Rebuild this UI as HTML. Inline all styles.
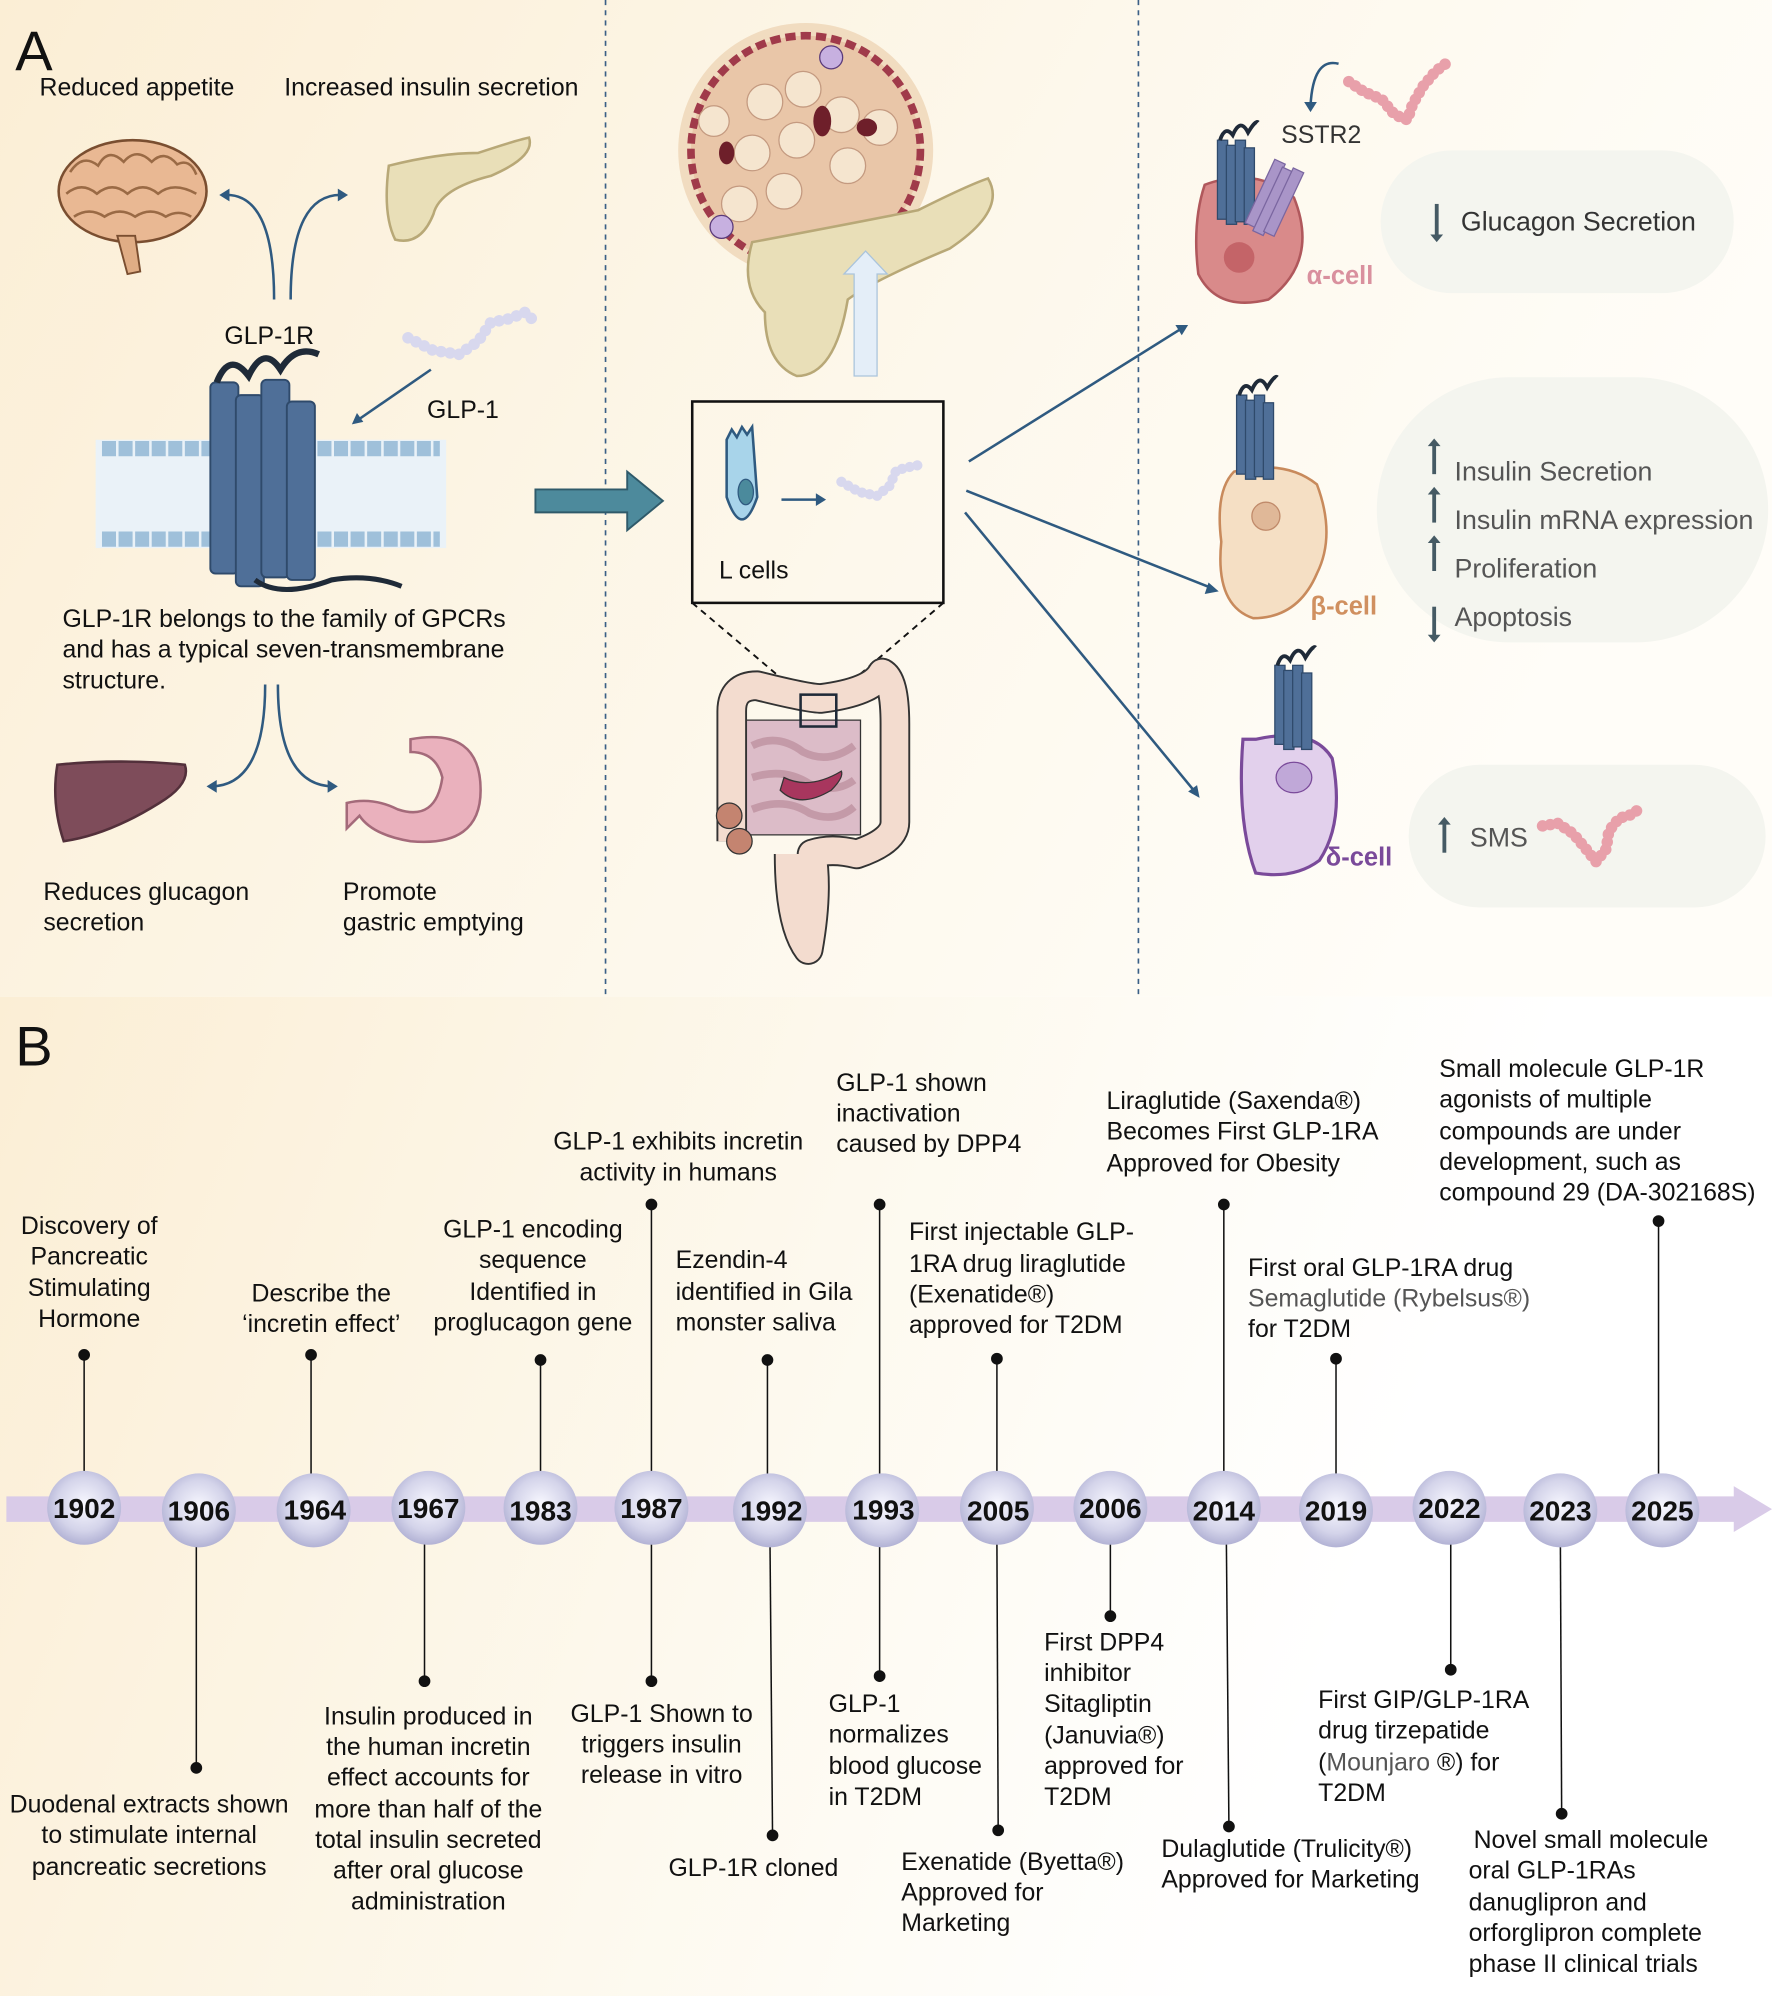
<!DOCTYPE html>
<html><head><meta charset="utf-8"><style>
html,body{margin:0;padding:0;background:#fff}
svg{display:block}
text{font-family:"Liberation Sans",sans-serif;font-size:19.5px;fill:#111}
.g{fill:#555;font-size:21px}
.yr{font-weight:bold;font-size:22px;text-anchor:middle}
</style></head><body>
<svg width="1772" height="1996" viewBox="0 0 1390 1566" preserveAspectRatio="none" xmlns="http://www.w3.org/2000/svg">
<defs>
<linearGradient id="bgA" x1="0" y1="0" x2="1" y2="0.3"><stop offset="0" stop-color="#fbeed5"/><stop offset="0.6" stop-color="#fdf8ec"/><stop offset="1" stop-color="#fffdf8"/></linearGradient>
<linearGradient id="bgB" x1="0" y1="0" x2="1" y2="0.2"><stop offset="0" stop-color="#fbeed5"/><stop offset="0.5" stop-color="#fdf9ee"/><stop offset="0.85" stop-color="#ffffff"/></linearGradient>
<radialGradient id="ball" cx="0.5" cy="0.45" r="0.6"><stop offset="0" stop-color="#f8f8ff"/><stop offset="0.6" stop-color="#d4d4ea"/><stop offset="1" stop-color="#a9a9cf"/></radialGradient>
<g id="rec"><g fill="#4f6f98" stroke="#2f4a6b" stroke-width="1"><rect x="0" y="0" width="8" height="62"/><rect x="7" y="4" width="8" height="62"/><rect x="14" y="0" width="8" height="64"/><rect x="21" y="6" width="8" height="60"/></g><path d="M2 0 q4 -12 10 -4 q6 -14 12 -2 q6 -10 8 -8" fill="none" stroke="#1f2a38" stroke-width="3"/></g>
</defs>
<rect x="0" y="0" width="1390" height="782" fill="url(#bgA)"/>
<rect x="0" y="782" width="1390" height="784" fill="url(#bgB)"/>
<line x1="475" y1="0" x2="475" y2="782" stroke="#3a5f86" stroke-width="1.3" stroke-dasharray="4,4"/>
<line x1="893" y1="0" x2="893" y2="782" stroke="#3a5f86" stroke-width="1.3" stroke-dasharray="4,4"/>

<text x="12" y="55" style="font-size:44px">A</text>
<text x="31" y="75">Reduced appetite</text>
<text x="223" y="75">Increased insulin secretion</text>
<!-- brain -->
<ellipse cx="104" cy="150" rx="58" ry="40" fill="#e9b893" stroke="#7a4e30" stroke-width="2"/>
<path d="M55 135 q10 -15 22 -5 q8 -15 20 -3 q10 -12 22 0 q10 -10 20 2 q10 -5 15 8 M52 152 q12 -10 24 0 q12 -10 24 0 q12 -10 24 0 q12 -10 30 0 M58 170 q12 -8 24 0 q12 -8 24 0 q12 -8 24 0 q10 -6 20 0" fill="none" stroke="#9a6a45" stroke-width="2"/>
<path d="M92 185 l8 30 l10 -2 l-4 -28z" fill="#e0ad85" stroke="#7a4e30" stroke-width="1.5"/>
<!-- pancreas small -->
<path d="M305 130 q40 -10 70 -10 q30 -10 40 -12 q5 15 -30 30 q-40 10 -45 30 q-10 25 -30 20 q-10 -20 -5 -58z" fill="#e9dfb8" stroke="#b8a877" stroke-width="2"/>
<!-- arrows up -->
<path d="M215 235 Q215 150 175 153" fill="none" stroke="#2f5a80" stroke-width="2"/>
<path d="M228 235 Q228 150 270 153" fill="none" stroke="#2f5a80" stroke-width="2"/>
<path d="M172 153 l8 -5 l0 10z M273 153 l-8 -5 l0 10z" fill="#2f5a80"/>
<text x="176" y="270">GLP-1R</text>
<path d="M320 265 l20 10 20 3 15 -10 10 -15 15 -3 12 -5 8 8" fill="none" stroke="#d8d8ee" stroke-width="9" stroke-linecap="round" stroke-dasharray="0.1,7"/>
<text x="335" y="328">GLP-1</text>
<path d="M338 290 L280 330" stroke="#2f5a80" stroke-width="2"/><path d="M276 333 l4 -9 l5 7z" fill="#2f5a80"/>
<!-- membrane -->
<rect x="75" y="345" width="275" height="85" fill="#eaf2f8"/>
<path d="M80 352 h265 M80 423 h265" stroke="#9fc0da" stroke-width="12" stroke-dasharray="11,2"/>
<g fill="#4f6f98" stroke="#2f4a6b" stroke-width="1.5">
<rect x="165" y="300" width="22" height="150" rx="4"/><rect x="185" y="310" width="22" height="150" rx="4"/><rect x="205" y="298" width="22" height="155" rx="4"/><rect x="225" y="315" width="22" height="140" rx="4"/></g>
<path d="M170 300 q10 -25 25 -5 q12 -25 25 -5 q12 -20 30 -12" fill="none" stroke="#1f2a38" stroke-width="5"/>
<path d="M200 455 q20 15 60 0 q30 -5 55 5" fill="none" stroke="#1f2a38" stroke-width="4"/>
<text x="49" y="492">GLP-1R belongs to the family of GPCRs</text>
<text x="49" y="516">and has a typical seven-transmembrane</text>
<text x="49" y="540">structure.</text>
<path d="M208 537 Q208 617 165 617" fill="none" stroke="#2f5a80" stroke-width="2"/>
<path d="M218 537 Q218 617 262 617" fill="none" stroke="#2f5a80" stroke-width="2"/>
<path d="M162 617 l8 -5 l0 10z M265 617 l-8 -5 l0 10z" fill="#2f5a80"/>
<!-- liver -->
<path d="M45 600 q50 -5 100 0 q5 15 -20 30 q-40 25 -75 30 q-10 -30 -5 -60z" fill="#7e4c5a" stroke="#53303b" stroke-width="2"/>
<!-- stomach -->
<path d="M322 580 q55 -10 55 40 q0 45 -55 40 q-30 -5 -40 -20 l-10 10 l0 -20 q20 -5 40 5 q30 10 35 -25 q-5 -20 -25 -20z" fill="#eab1bd" stroke="#a46a7a" stroke-width="2"/>
<text x="34" y="706">Reduces glucagon</text><text x="34" y="730">secretion</text>
<text x="269" y="706">Promote</text><text x="269" y="730">gastric emptying</text>
<!-- big arrow -->
<path d="M420 384 h72 v-14 l28 23 l-28 23 v-14 h-72z" fill="#4d8a9c" stroke="#2f5a6a" stroke-width="1.5"/>

<!-- islet -->
<circle cx="632" cy="118" r="100" fill="#f1dcc0"/>
<circle cx="632" cy="118" r="90" fill="#e9c6a8" stroke="#a03a4a" stroke-width="6" stroke-dasharray="8,4"/>
<g fill="#f5e5cf" stroke="#c49a80" stroke-width="1">
<circle cx="600" cy="80" r="14"/><circle cx="630" cy="70" r="14"/><circle cx="660" cy="90" r="14"/><circle cx="590" cy="120" r="14"/><circle cx="625" cy="110" r="14"/><circle cx="665" cy="130" r="14"/><circle cx="580" cy="160" r="14"/><circle cx="615" cy="150" r="14"/><circle cx="690" cy="100" r="14"/><circle cx="560" cy="95" r="12"/></g>
<g fill="#6e1f2a"><ellipse cx="645" cy="95" rx="7" ry="12"/><ellipse cx="570" cy="120" rx="6" ry="9"/><ellipse cx="680" cy="100" rx="8" ry="7"/></g>
<circle cx="652" cy="45" r="9" fill="#c7b0e0" stroke="#5a3a7a"/>
<circle cx="566" cy="178" r="9" fill="#c7b0e0" stroke="#5a3a7a"/>
<path d="M590 190 q80 -15 130 -25 q40 -20 55 -25 q15 25 -30 55 q-60 25 -80 40 q-10 60 -40 60 q-25 -10 -25 -50 q-20 -20 -10 -55z" fill="#e9dfb8" stroke="#b8a877" stroke-width="2"/>
<path d="M670 295 v-80 h-8 l17 -18 l17 18 h-8 v80z" fill="#e4eef8" stroke="#aac4dc"/>
<!-- L cell box -->
<rect x="543" y="315" width="197" height="158" fill="none" stroke="#111" stroke-width="2"/>
<path d="M570 345 l4 -8 4 6 4 -8 4 6 4 -6 l4 55 q-12 35 -24 0z" fill="#a8d4ea" stroke="#2f5a80" stroke-width="2"/>
<ellipse cx="585" cy="386" rx="6" ry="10" fill="#4b8a9c" stroke="#2f5a80"/>
<path d="M613 392 h30" stroke="#2f5a80" stroke-width="2"/><path d="M648 392 l-8 -5 v10z" fill="#2f5a80"/>
<path d="M660 378 l14 8 14 3 10 -8 5 -12 12 -3 10 -2" fill="none" stroke="#d8d8ee" stroke-width="8" stroke-linecap="round" stroke-dasharray="0.1,6"/>
<text x="564" y="454">L cells</text>
<path d="M543 473 L628 545 M740 473 L656 545" stroke="#111" stroke-width="1.5" stroke-dasharray="5,4"/>
<!-- intestine -->
<path d="M585 565 h90 v90 h-90z" fill="#dcbcc8" stroke="#333" stroke-width="1"/>
<path d="M590 585 q20 -10 40 5 q20 10 40 -5 M590 610 q25 -8 45 5 q20 8 35 -3 M590 635 q25 -10 45 3 q20 8 35 -5" fill="none" stroke="#c49aa8" stroke-width="6"/>
<path d="M612 620 q15 15 40 0 q10 -10 8 -15 q-25 15 -45 5z" fill="#a8365e" stroke="#333"/>
<path d="M574 660 V558 q0 -20 20 -20 q40 10 50 10 q40 -5 48 -20 q10 5 10 40 V645 q0 15 -30 25 q-20 -5 -35 0 q5 30 -3 75 q-15 -20 -15 -75" fill="none" stroke="#333" stroke-width="24" stroke-linejoin="round"/>
<path d="M574 660 V558 q0 -20 20 -20 q40 10 50 10 q40 -5 48 -20 q10 5 10 40 V645 q0 15 -30 25 q-20 -5 -35 0 q5 30 -3 75 q-15 -20 -15 -75" fill="none" stroke="#f3dccf" stroke-width="21" stroke-linejoin="round"/>
<circle cx="572" cy="640" r="10" fill="#c48470" stroke="#333"/><circle cx="580" cy="660" r="10" fill="#c48470" stroke="#333"/>
<rect x="628" y="545" width="28" height="25" fill="none" stroke="#1f2a38" stroke-width="2"/>

<!-- right arrows -->
<g stroke="#2f5a80" stroke-width="2" fill="none"><path d="M760 362 L928 257"/><path d="M758 385 L952 462"/><path d="M757 402 L938 622"/></g>
<g fill="#2f5a80"><path d="M932 255 l-10 0 l5 8z"/><path d="M956 464 l-8 -7 l-3 9z"/><path d="M941 626 l-2 -10 l-7 5z"/></g>
<!-- pills -->
<rect x="1083" y="118" width="277" height="112" rx="56" fill="#f4f5ef"/>
<rect x="1080" y="296" width="307" height="208" rx="104" fill="#f4f5ef"/>
<rect x="1105" y="600" width="280" height="112" rx="56" fill="#f4f5ef"/>
<!-- cells -->
<path d="M945 145 q40 -15 70 10 q20 50 -20 80 q-40 10 -55 -20 q-5 -40 5 -70z" fill="#d98a8a" stroke="#b0585c" stroke-width="2"/>
<circle cx="972" cy="202" r="12" fill="#c46468"/>
<g transform="translate(955,110)"><use href="#rec"/></g>
<g transform="translate(1000,125) rotate(25)"><g fill="#a995c8" stroke="#7a66a0"><rect x="0" y="0" width="9" height="55"/><rect x="8" y="3" width="9" height="55"/><rect x="16" y="0" width="9" height="55"/></g></g>
<path d="M1050 50 q-20 -5 -22 33" fill="none" stroke="#2f5a80" stroke-width="2"/><path d="M1028 88 l-5 -8 h10z" fill="#2f5a80"/>
<path d="M1058 64 l12 8 14 6 10 12 10 4 4 -12 8 -14 10 -12 8 -6" fill="none" stroke="#e8a0aa" stroke-width="9" stroke-linecap="round" stroke-dasharray="0.1,6"/>
<text x="1005" y="112" style="fill:#333">SSTR2</text>
<text x="1025" y="223" style="fill:#d9909e;font-weight:bold;font-size:20px">α-cell</text>
<path d="M1127 160 v26" stroke="#455a64" stroke-width="3"/><path d="M1122 184 l5 6 l5 -6z" fill="#455a64"/>
<text x="1146" y="181" style="fill:#333;font-size:21px">Glucagon Secretion</text>

<path d="M968 370 q40 -10 65 10 q15 40 0 70 q-15 35 -50 35 q-30 -10 -25 -60 q-5 -40 10 -55z" fill="#f5dfc4" stroke="#c88a5c" stroke-width="2"/>
<circle cx="993" cy="405" r="11" fill="#e0b898" stroke="#c08a6a"/>
<g transform="translate(970,310)"><use href="#rec"/></g>
<text x="1028" y="482" style="fill:#d09060;font-weight:bold;font-size:20px">β-cell</text>
<g fill="#455a64"><path d="M1125 348 v24" stroke="#455a64" stroke-width="3"/><path d="M1120 350 l5 -6 l5 6z"/>
<path d="M1125 386 v24" stroke="#455a64" stroke-width="3"/><path d="M1120 388 l5 -6 l5 6z"/>
<path d="M1125 424 v24" stroke="#455a64" stroke-width="3"/><path d="M1120 426 l5 -6 l5 6z"/>
<path d="M1125 476 v24" stroke="#455a64" stroke-width="3"/><path d="M1120 498 l5 6 l5 -6z"/></g>
<text x="1141" y="377" class="g">Insulin Secretion</text>
<text x="1141" y="415" class="g">Insulin mRNA expression</text>
<text x="1141" y="453" class="g">Proliferation</text>
<text x="1141" y="491" class="g">Apoptosis</text>

<path d="M985 580 q45 -10 60 15 q10 50 -10 80 q-20 15 -50 10 q-15 -40 -10 -105z" fill="#e2d0ec" stroke="#7a4a9a" stroke-width="2.5"/>
<ellipse cx="1015" cy="610" rx="14" ry="12" fill="#c0a8d8" stroke="#7a4a9a"/>
<g transform="translate(1000,522)"><use href="#rec"/></g>
<text x="1040" y="679" style="fill:#7a4a9a;font-weight:bold;font-size:20px">δ-cell</text>
<path d="M1133 645 v24" stroke="#455a64" stroke-width="3"/><path d="M1128 647 l5 -6 l5 6z" fill="#455a64"/>
<text x="1153" y="664" class="g">SMS</text>
<path d="M1210 648 l12 -2 12 8 10 12 8 10 8 -10 2 -14 8 -10 10 -3 8 -6" fill="none" stroke="#e8a0aa" stroke-width="9" stroke-linecap="round" stroke-dasharray="0.1,6"/>

<!-- Panel B -->
<text x="12" y="836" style="font-size:44px">B</text>
<path d="M5 1174 H1360 V1166 L1390 1184 L1360 1202 V1194 H5z" fill="#d9cbe8"/>
<g stroke="#111" stroke-width="1.2" fill="#111">
<line x1="66" y1="1063" x2="66" y2="1160"/><circle cx="66" cy="1063" r="4"/>
<line x1="244" y1="1063" x2="244" y2="1160"/><circle cx="244" cy="1063" r="4"/>
<line x1="424" y1="1067" x2="424" y2="1160"/><circle cx="424" cy="1067" r="4"/>
<line x1="511" y1="945" x2="511" y2="1160"/><circle cx="511" cy="945" r="4"/>
<line x1="602" y1="1067" x2="602" y2="1160"/><circle cx="602" cy="1067" r="4"/>
<line x1="690" y1="945" x2="690" y2="1160"/><circle cx="690" cy="945" r="4"/>
<line x1="782" y1="1066" x2="782" y2="1160"/><circle cx="782" cy="1066" r="4"/>
<line x1="960" y1="945" x2="960" y2="1160"/><circle cx="960" cy="945" r="4"/>
<line x1="1048" y1="1066" x2="1048" y2="1160"/><circle cx="1048" cy="1066" r="4"/>
<line x1="1301" y1="958" x2="1301" y2="1160"/><circle cx="1301" cy="958" r="4"/>
<line x1="154" y1="1210" x2="154" y2="1387"/><circle cx="154" cy="1387" r="4"/>
<line x1="333" y1="1210" x2="333" y2="1319"/><circle cx="333" cy="1319" r="4"/>
<line x1="511" y1="1210" x2="511" y2="1319"/><circle cx="511" cy="1319" r="4"/>
<line x1="604" y1="1210" x2="606" y2="1440"/><circle cx="606" cy="1440" r="4"/>
<line x1="690" y1="1210" x2="690" y2="1315"/><circle cx="690" cy="1315" r="4"/>
<line x1="782" y1="1210" x2="783" y2="1436"/><circle cx="783" cy="1436" r="4"/>
<line x1="871" y1="1210" x2="871" y2="1268"/><circle cx="871" cy="1268" r="4"/>
<line x1="962" y1="1210" x2="964" y2="1433"/><circle cx="964" cy="1433" r="4"/>
<line x1="1138" y1="1210" x2="1138" y2="1310"/><circle cx="1138" cy="1310" r="4"/>
<line x1="1224" y1="1210" x2="1225" y2="1423"/><circle cx="1225" cy="1423" r="4"/>
</g>
<g fill="url(#ball)">
<circle cx="66" cy="1183" r="29"/><circle cx="156" cy="1185" r="29"/><circle cx="246" cy="1185" r="29"/><circle cx="336" cy="1183" r="29"/><circle cx="424" cy="1183" r="29"/><circle cx="511" cy="1183" r="29"/><circle cx="604" cy="1185" r="29"/><circle cx="692" cy="1185" r="29"/><circle cx="782" cy="1183" r="29"/><circle cx="871" cy="1183" r="29"/><circle cx="960" cy="1183" r="29"/><circle cx="1048" cy="1185" r="29"/><circle cx="1137" cy="1183" r="29"/><circle cx="1224" cy="1185" r="29"/><circle cx="1304" cy="1185" r="29"/>
</g>
<text class="yr" x="66" y="1191">1902</text><text class="yr" x="156" y="1193">1906</text><text class="yr" x="247" y="1192">1964</text><text class="yr" x="336" y="1191">1967</text><text class="yr" x="424" y="1193">1983</text><text class="yr" x="511" y="1191">1987</text><text class="yr" x="605" y="1193">1992</text><text class="yr" x="693" y="1192">1993</text><text class="yr" x="783" y="1193">2005</text><text class="yr" x="871" y="1191">2006</text><text class="yr" x="960" y="1193">2014</text><text class="yr" x="1048" y="1193">2019</text><text class="yr" x="1137" y="1191">2022</text><text class="yr" x="1224" y="1193">2023</text><text class="yr" x="1304" y="1193">2025</text>

<g style="text-anchor:middle">
<text x="70" y="968">Discovery of</text><text x="70" y="992">Pancreatic</text><text x="70" y="1017">Stimulating</text><text x="70" y="1041">Hormone</text>
<text x="252" y="1021">Describe the</text><text x="252" y="1045">‘incretin effect’</text>
<text x="418" y="971">GLP-1 encoding</text><text x="418" y="995">sequence</text><text x="418" y="1020">Identified in</text><text x="418" y="1044">proglucagon gene</text>
<text x="532" y="902">GLP-1 exhibits incretin</text><text x="532" y="926">activity in humans</text>
<text x="117" y="1422">Duodenal extracts shown</text><text x="117" y="1446">to stimulate internal</text><text x="117" y="1471">pancreatic secretions</text>
<text x="336" y="1353">Insulin produced in</text><text x="336" y="1377">the human incretin</text><text x="336" y="1401">effect accounts for</text><text x="336" y="1426">more than half of the</text><text x="336" y="1450">total insulin secreted</text><text x="336" y="1474">after oral glucose</text><text x="336" y="1498">administration</text>
<text x="519" y="1351">GLP-1 Shown to</text><text x="519" y="1375">triggers insulin</text><text x="519" y="1399">release in vitro</text>
<text x="591" y="1472">GLP-1R cloned</text>
<text x="1248" y="1450">Novel small molecule</text>
</g>
<text x="530" y="995">Ezendin-4</text><text x="530" y="1020">identified in Gila</text><text x="530" y="1044">monster saliva</text>
<text x="656" y="856">GLP-1 shown</text><text x="656" y="880">inactivation</text><text x="656" y="904">caused by DPP4</text>
<text x="713" y="973">First injectable GLP-</text><text x="713" y="998">1RA drug liraglutide</text><text x="713" y="1022">(Exenatide®)</text><text x="713" y="1046">approved for T2DM</text>
<text x="868" y="870">Liraglutide (Saxenda®)</text><text x="868" y="894">Becomes First GLP-1RA</text><text x="868" y="919">Approved for Obesity</text>
<text x="979" y="1001">First oral GLP-1RA drug</text><text x="979" y="1025" style="fill:#555">Semaglutide (Rybelsus®)</text><text x="979" y="1049">for T2DM</text>
<text x="1129" y="845">Small molecule GLP-1R</text><text x="1129" y="869">agonists of multiple</text><text x="1129" y="894">compounds are under</text><text x="1129" y="918">development, such as</text><text x="1129" y="942">compound 29 (DA-302168S)</text>
<text x="650" y="1343">GLP-1</text><text x="650" y="1367">normalizes</text><text x="650" y="1392">blood glucose</text><text x="650" y="1416">in T2DM</text>
<text x="707" y="1467">Exenatide (Byetta®)</text><text x="707" y="1491">Approved for</text><text x="707" y="1515">Marketing</text>
<text x="819" y="1295">First DPP4</text><text x="819" y="1319">inhibitor</text><text x="819" y="1343">Sitagliptin</text><text x="819" y="1368">(Januvia®)</text><text x="819" y="1392">approved for</text><text x="819" y="1416">T2DM</text>
<text x="911" y="1457">Dulaglutide (Trulicity®)</text><text x="911" y="1481">Approved for Marketing</text>
<text x="1034" y="1340">First GIP/GLP-1RA</text><text x="1034" y="1364">drug tirzepatide</text><text x="1034" y="1389">(<tspan style="fill:#555">Mounjaro</tspan> ®) for</text><text x="1034" y="1413">T2DM</text>
<text x="1152" y="1474">oral GLP-1RAs</text><text x="1152" y="1499">danuglipron and</text><text x="1152" y="1523">orforglipron complete</text><text x="1152" y="1547">phase II clinical trials</text>
</svg>
</body></html>
